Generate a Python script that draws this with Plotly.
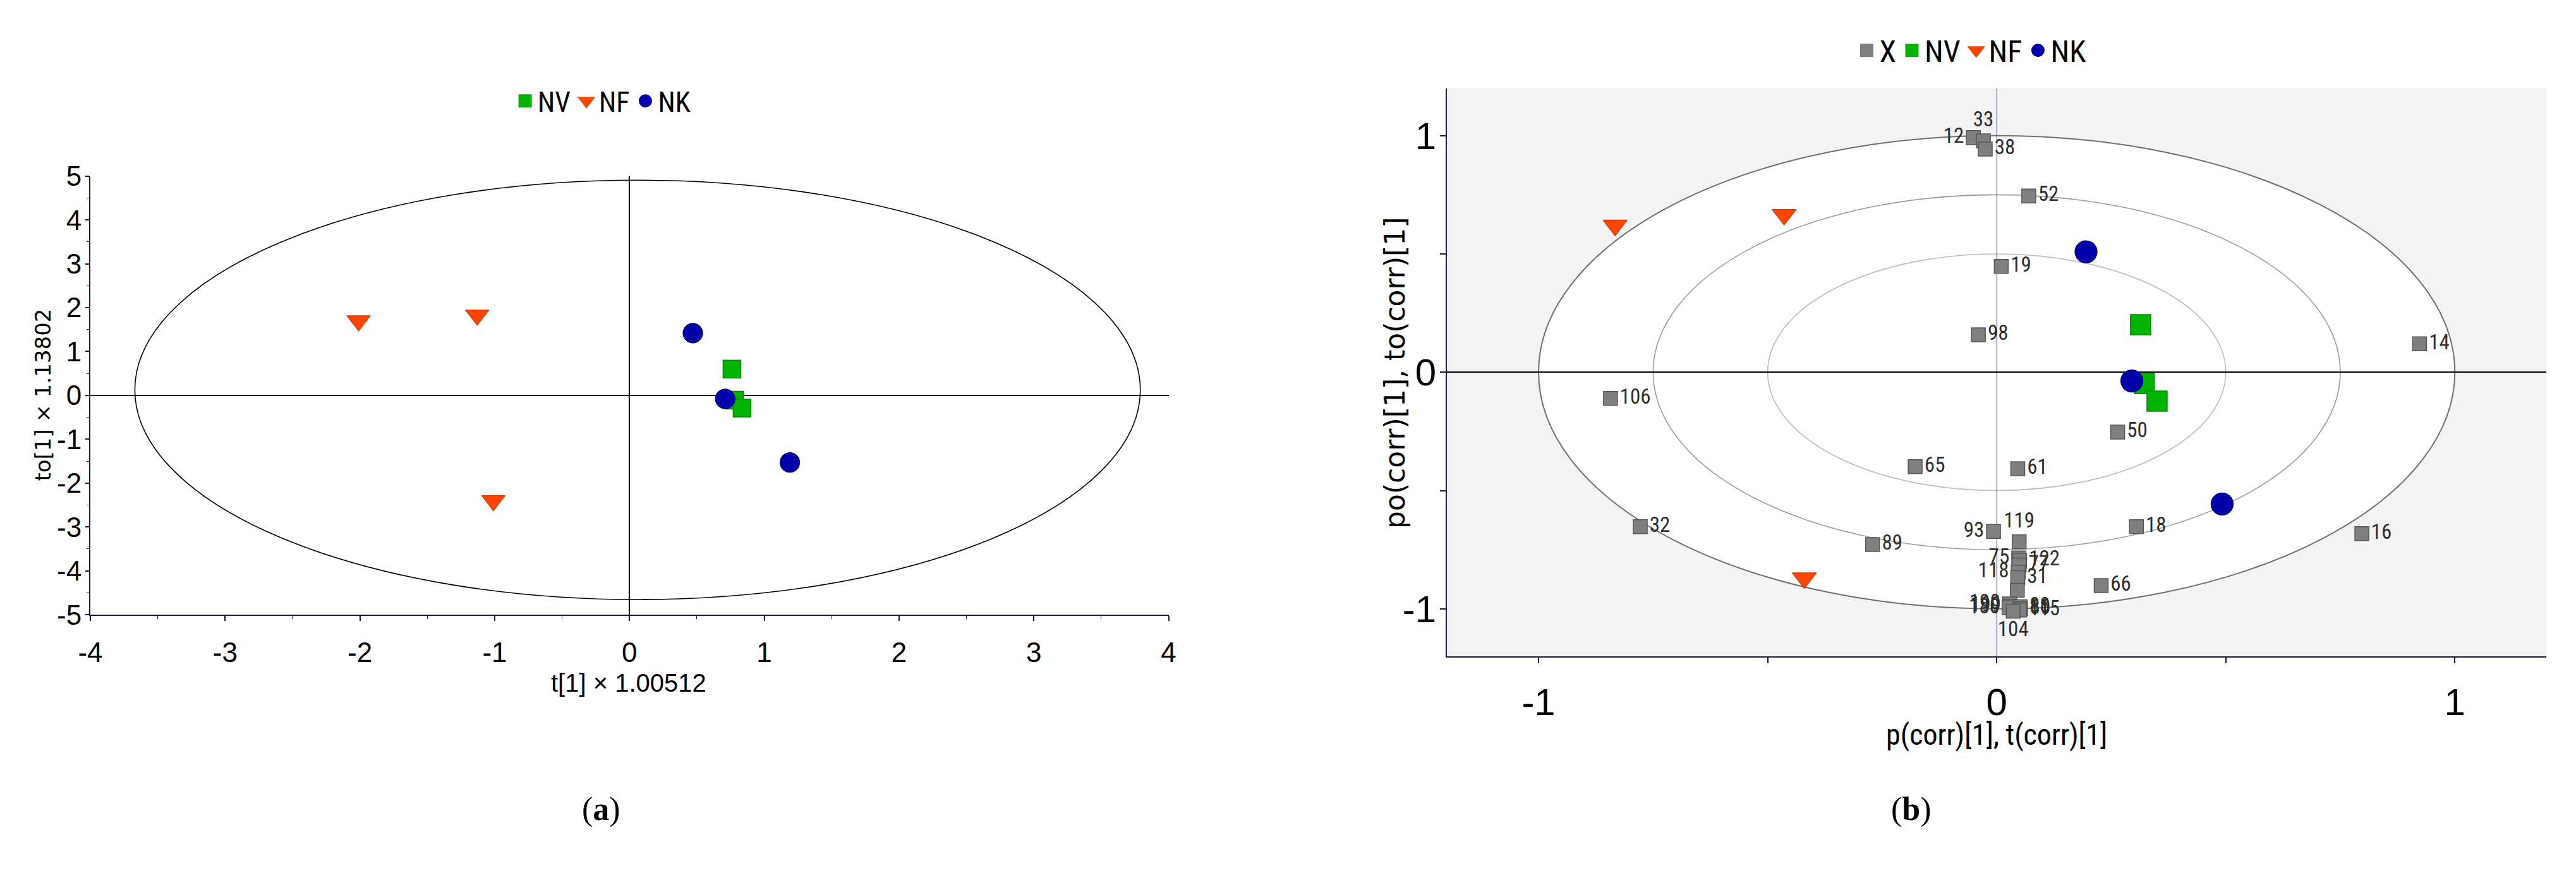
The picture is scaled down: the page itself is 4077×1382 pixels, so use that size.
import plotly.graph_objects as go

# ---------------- Panel (a): OPLS-DA score plot ----------------
NV_T = [0.76, 0.78, 0.835]
NV_TO = [0.60, -0.11, -0.29]
NF_T = [-2.01, -1.13, -1.01]
NF_TO = [1.70, 1.83, -2.40]
NK_T = [0.47, 0.71, 1.19]
NK_TO = [1.42, -0.08, -1.53]

# Hotelling T2 ellipse (centre and semi-axes, in score units)
ELL_CX, ELL_CY, ELL_A, ELL_B = 0.06, 0.125, 3.73, 4.78

A_XTICKS = [-4, -3, -2, -1, 0, 1, 2, 3, 4]
A_XTICKTEXT = ["-4", "-3", "-2", "-1", "0", "1", "2", "3", "4"]
A_YTICKS = [-5, -4, -3, -2, -1, 0, 1, 2, 3, 4, 5]
A_YTICKTEXT = ["-5", "-4", "-3", "-2", "-1", "0", "1", "2", "3", "4", "5"]

# ---------------- Panel (b): correlation loading plot ----------------
X_LABELS = ["12", "33", "38", "52", "19", "98", "14", "106", "50", "65", "61",
            "32", "89", "93", "18", "16", "66", "119", "75", "122", "77", "118",
            "31", "", "190", "199", "180", "88", "80", "115", "104"]
X_PCORR = [-0.051, -0.029, -0.025, 0.070, 0.010, -0.040, 0.923, -0.843, 0.264,
           -0.178, 0.046, -0.778, -0.271, -0.007, 0.305, 0.797, 0.228, 0.049,
           0.048, 0.050, 0.049, 0.047, 0.046, 0.045, 0.028, 0.030, 0.027,
           0.051, 0.052, 0.050, 0.036]
X_POCORR = [0.992, 0.978, 0.943, 0.745, 0.447, 0.158, 0.120, -0.111, -0.253,
            -0.399, -0.408, -0.653, -0.728, -0.673, -0.653, -0.682, -0.902,
            -0.717, -0.785, -0.795, -0.815, -0.845, -0.868, -0.922, -0.979,
            -0.990, -0.996, -0.991, -1.000, -1.005, -1.010]
X_LABEL_POS = ["middle left", "top center", "middle right", "middle right",
               "middle right", "middle right", "middle right", "middle right",
               "middle right", "middle right", "middle right", "middle right",
               "middle right", "middle left", "middle right", "middle right",
               "middle right", "top center", "middle left", "middle right",
               "middle right", "middle left", "middle right", "middle right",
               "middle left", "middle left", "middle left", "middle right",
               "middle right", "middle right", "bottom center"]

NVb_P = [0.314, 0.322, 0.350]
NVb_PO = [0.201, -0.048, -0.122]
NFb_P = [-0.833, -0.464, -0.420]
NFb_PO = [0.621, 0.666, -0.870]
NKb_P = [0.195, 0.295, 0.492]
NKb_PO = [0.509, -0.037, -0.557]

CORR_RADII = [1.0, 0.75, 0.5]
CORR_RING_COLORS = ["#707070", "#9c9c9c", "#bcbcbc"]

B_TICKS = [-1, -0.5, 0, 0.5, 1]
B_TICKTEXT = ["-1", "", "0", "", "1"]

# ---------------- styling ----------------
W, H = 4077, 1382
C_NV, C_NV_L = "#00b300", "#008c00"
C_NF, C_NF_L = "#ff4500", "#d83800"
C_NK, C_NK_L = "#0000a8", "#00007a"
C_X, C_X_L = "#7f7f7f", "#575757"
AXC = "#1a1a3c"
SANS = "Liberation Sans, Arial, sans-serif"
NARROW = "Liberation Sans Narrow, Arial Narrow, Roboto Condensed, DejaVu Sans Condensed, Liberation Sans, sans-serif"
WIDE = "DejaVu Sans, Verdana, sans-serif"

fig = go.Figure()

# ---- panel (a) traces ----
fig.add_trace(go.Scatter(x=NV_T, y=NV_TO, mode="markers", name="NV", showlegend=False,
                         marker=dict(symbol="square", size=28, color=C_NV,
                                     line=dict(color=C_NV_L, width=1.5)),
                         xaxis="x", yaxis="y"))
fig.add_trace(go.Scatter(x=NF_T, y=NF_TO, mode="markers", name="NF", showlegend=False,
                         marker=dict(symbol="triangle-down", size=32, color=C_NF,
                                     line=dict(color=C_NF_L, width=1.2)),
                         xaxis="x", yaxis="y"))
fig.add_trace(go.Scatter(x=NK_T, y=NK_TO, mode="markers", name="NK", showlegend=False,
                         marker=dict(symbol="circle", size=31, color=C_NK,
                                     line=dict(color=C_NK_L, width=1.2)),
                         xaxis="x", yaxis="y"))

# ---- panel (b) traces ----
fig.add_trace(go.Scatter(x=X_PCORR, y=X_POCORR, mode="markers+text", name="X", showlegend=False,
                         text=X_LABELS, textposition=X_LABEL_POS,
                         textfont=dict(family=NARROW, size=33, color="#2e2e2e"),
                         marker=dict(symbol="square", size=22, color=C_X,
                                     line=dict(color=C_X_L, width=1.5)),
                         xaxis="x2", yaxis="y2"))
fig.add_trace(go.Scatter(x=NVb_P, y=NVb_PO, mode="markers", name="NV", showlegend=False,
                         marker=dict(symbol="square", size=32, color=C_NV,
                                     line=dict(color=C_NV_L, width=1.5)),
                         xaxis="x2", yaxis="y2"))
fig.add_trace(go.Scatter(x=NFb_P, y=NFb_PO, mode="markers", name="NF", showlegend=False,
                         marker=dict(symbol="triangle-down", size=33, color=C_NF,
                                     line=dict(color=C_NF_L, width=1.2)),
                         xaxis="x2", yaxis="y2"))
fig.add_trace(go.Scatter(x=NKb_P, y=NKb_PO, mode="markers", name="NK", showlegend=False,
                         marker=dict(symbol="circle", size=35, color=C_NK,
                                     line=dict(color=C_NK_L, width=1.2)),
                         xaxis="x2", yaxis="y2"))

# ---- legend entries (no points, legend only) ----
def legend_entry(name, symbol, color, legend, axis):
    return go.Scatter(x=[None], y=[None], mode="markers", name=name, legend=legend,
                      marker=dict(symbol=symbol, size=16, color=color,
                                  line=dict(color=color, width=5)),
                      xaxis=axis[0], yaxis=axis[1], hoverinfo="skip")

for nm, sym, col in [("NV", "square", C_NV), ("NF", "triangle-down", C_NF), ("NK", "circle", C_NK)]:
    fig.add_trace(legend_entry(nm, sym, col, "legend", ("x", "y")))
for nm, sym, col in [("X", "square", C_X), ("NV", "square", C_NV),
                     ("NF", "triangle-down", C_NF), ("NK", "circle", C_NK)]:
    fig.add_trace(legend_entry(nm, sym, col, "legend2", ("x2", "y2")))

# ---- shapes ----
shapes = [
    # panel (a) Hotelling ellipse
    dict(type="circle", xref="x", yref="y",
         x0=ELL_CX - ELL_A, x1=ELL_CX + ELL_A, y0=ELL_CY - ELL_B, y1=ELL_CY + ELL_B,
         line=dict(color="black", width=1.6), layer="below"),
    # panel (b) grey plot background
    dict(type="rect", xref="x2 domain", yref="y2 domain", x0=0, x1=1, y0=0, y1=1,
         fillcolor="#f3f3f3", line=dict(width=0), layer="below"),
]
for i, (r, c) in enumerate(zip(CORR_RADII, CORR_RING_COLORS)):
    shapes.append(dict(type="circle", xref="x2", yref="y2", x0=-r, x1=r, y0=-r, y1=r,
                       fillcolor="white" if i == 0 else "rgba(0,0,0,0)",
                       line=dict(color=c, width=2 if i == 0 else 1.6), layer="below"))

# ---- domains (paper fractions) ----
AX_DOM = [124 / W, 1844 / W]
AY_DOM = [(H - 983) / H, (H - 263) / H]
BX_DOM = [2288 / W, 4042 / W]
BY_DOM = [(H - 1051) / H, (H - 119) / H]

axis_common = dict(showgrid=False, showline=True, linecolor=AXC, linewidth=2,
                   ticks="outside", tickcolor=AXC, tickwidth=1.5, mirror=False)

fig.update_layout(
    width=W, height=H,
    margin=dict(l=0, r=0, t=0, b=0),
    paper_bgcolor="white", plot_bgcolor="white",
    shapes=shapes,
    xaxis=dict(domain=AX_DOM, range=[-4, 4], anchor="y", tickmode="array",
               tickvals=A_XTICKS, ticktext=A_XTICKTEXT, ticklen=8,
               tickfont=dict(family=SANS, size=44, color="black"),
               minor=dict(tickmode="linear", tick0=0, dtick=0.5, ticks="outside",
                          ticklen=5, tickcolor=AXC, tickwidth=1.2),
               zeroline=True, zerolinecolor="black", zerolinewidth=1.6,
               ticklabelstandoff=12, **axis_common),
    yaxis=dict(domain=AY_DOM, range=[-5, 5], anchor="x", tickmode="array",
               tickvals=A_YTICKS, ticktext=A_YTICKTEXT, ticklen=6,
               tickfont=dict(family=SANS, size=44, color="black"),
               minor=dict(tickmode="linear", tick0=0, dtick=0.5, ticks="outside",
                          ticklen=4, tickcolor=AXC, tickwidth=1.2),
               zeroline=True, zerolinecolor="black", zerolinewidth=1.6,
               ticklabelstandoff=-3, **axis_common),
    xaxis2=dict(domain=BX_DOM, range=[-1.2, 1.2], anchor="y2", tickmode="array",
                tickvals=B_TICKS, ticktext=B_TICKTEXT, ticklen=9,
                tickfont=dict(family=SANS, size=60, color="black"),
                zeroline=True, zerolinecolor="#23234a", zerolinewidth=1.3,
                ticklabelstandoff=10, **axis_common),
    yaxis2=dict(domain=BY_DOM, range=[-1.2, 1.2], anchor="x2", tickmode="array",
                tickvals=B_TICKS, ticktext=B_TICKTEXT, ticklen=9,
                tickfont=dict(family=SANS, size=60, color="black"),
                zeroline=True, zerolinecolor="#000000", zerolinewidth=2.2,
                ticklabelstandoff=-6, **axis_common),
    legend=dict(orientation="h", x=942 / W, y=(H - 140) / H, xanchor="center", yanchor="middle",
                font=dict(family=NARROW, size=44, color="black"), itemwidth=30,
                bgcolor="rgba(0,0,0,0)", itemclick=False, itemdoubleclick=False),
    legend2=dict(orientation="h", x=3125 / W, y=(H - 57) / H, xanchor="center", yanchor="middle",
                 font=dict(family=NARROW, size=48, color="black"), itemwidth=30,
                 bgcolor="rgba(0,0,0,0)", itemclick=False, itemdoubleclick=False),
    annotations=[
        dict(text="t[1] × 1.00512", xref="paper", yref="paper", x=983 / W, y=(H - 1095) / H,
             showarrow=False, xanchor="center", yanchor="middle",
             font=dict(family=SANS, size=40, color="black")),
        dict(text="to[1] × 1.13802", xref="paper", yref="paper", x=48 / W, y=(H - 622) / H,
             showarrow=False, xanchor="center", yanchor="middle", textangle=-90,
             font=dict(family=WIDE, size=34, color="black")),
        dict(text="p(corr)[1], t(corr)[1]", xref="paper", yref="paper", x=3165 / W,
             y=(H - 1180) / H, showarrow=False, xanchor="center", yanchor="middle",
             font=dict(family=NARROW, size=46, color="black")),
        dict(text="po(corr)[1], to(corr)[1]", xref="paper", yref="paper", x=2205 / W,
             y=(H - 586) / H, showarrow=False, xanchor="center", yanchor="middle",
             textangle=-90, font=dict(family=WIDE, size=44, color="black")),
        dict(text="(<b>a</b>)", xref="paper", yref="paper", x=939 / W, y=(H - 1302) / H,
             showarrow=False, xanchor="center", yanchor="middle",
             font=dict(family="Liberation Serif, DejaVu Serif, serif", size=52, color="black")),
        dict(text="(<b>b</b>)", xref="paper", yref="paper", x=3029 / W, y=(H - 1302) / H,
             showarrow=False, xanchor="center", yanchor="middle",
             font=dict(family="Liberation Serif, DejaVu Serif, serif", size=52, color="black")),
    ],
)

fig.write_html("out.html", config={"displayModeBar": False},
               post_script="document.body.style.margin='0';document.body.style.overflow='hidden';")
